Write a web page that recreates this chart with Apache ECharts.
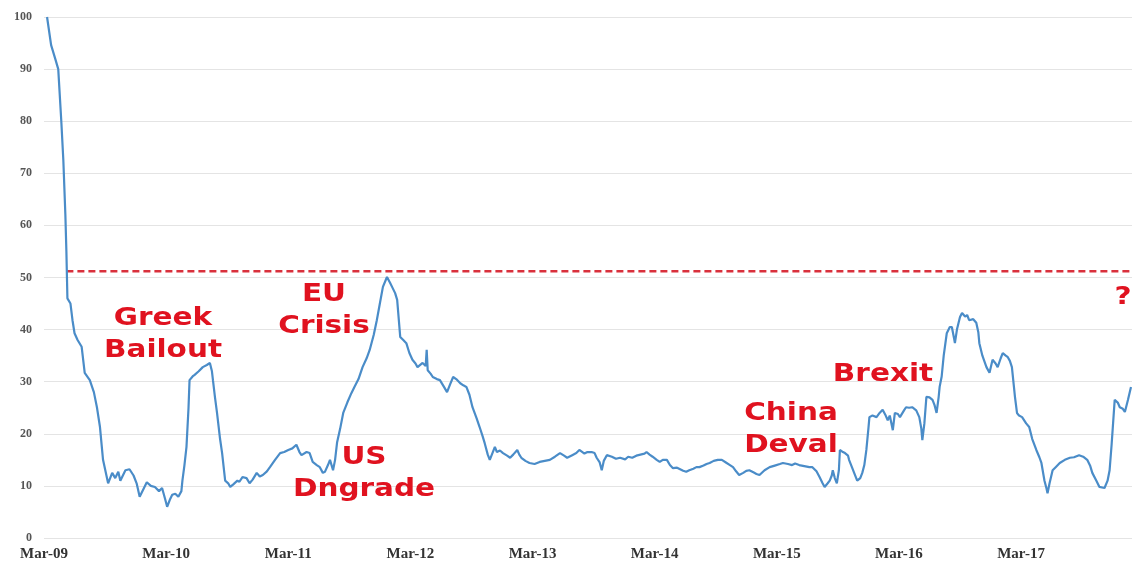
<!DOCTYPE html>
<html>
<head>
<meta charset="utf-8">
<script src="https://cdn.jsdelivr.net/npm/echarts@6/dist/echarts.min.js"></script>
<style>
  html, body { margin: 0; padding: 0; background: #fff; }
  #chart { width: 1132px; height: 565px; }
</style>
</head>
<body>
<div id="chart"></div>
<script>
// months since Mar-09
const months = [0.3,0.7,1.1,1.4,1.7,1.9,2.1,2.2,2.3,2.6,2.8,3.0,3.3,3.7,4.0,4.5,4.9,5.2,5.5,5.8,6.3,6.7,7.0,7.3,7.5,8.0,8.4,8.8,9.1,9.4,9.8,10.1,10.5,10.9,11.3,11.6,11.9,12.1,12.4,12.6,12.9,13.2,13.5,13.6,13.8,14.0,14.2,14.3,14.6,14.8,15.2,15.6,16.0,16.3,16.5,16.6,16.8,17.0,17.3,17.5,17.8,18.1,18.3,18.6,19.0,19.2,19.5,19.9,20.2,20.5,20.9,21.2,21.5,21.9,22.2,22.7,23.2,23.6,24.0,24.4,24.8,25.1,25.3,25.8,26.1,26.4,26.8,27.1,27.4,27.6,27.9,28.1,28.4,28.6,28.8,29.1,29.4,29.8,30.2,30.5,30.9,31.3,31.7,32.0,32.4,32.7,33.0,33.3,33.7,34.0,34.2,34.5,34.7,35.0,35.3,35.6,35.9,36.2,36.5,36.7,37.2,37.5,37.6,37.7,38.0,38.2,38.6,38.9,39.3,39.6,39.9,40.2,40.5,40.9,41.2,41.5,41.8,42.1,42.5,42.8,43.1,43.3,43.6,43.8,44.1,44.3,44.5,44.8,45.1,45.5,45.8,46.1,46.5,46.7,46.9,47.3,47.7,48.2,48.7,49.2,49.7,50.2,50.7,51.1,51.4,51.9,52.3,52.6,53.1,53.4,53.8,54.1,54.3,54.6,54.8,55.0,55.3,55.8,56.2,56.6,57.1,57.4,57.8,58.2,58.6,59.0,59.2,59.5,59.8,60.2,60.5,60.8,61.2,61.5,61.8,62.2,62.5,62.8,63.1,63.4,63.8,64.1,64.4,64.8,65.1,65.4,65.8,66.2,66.6,67.0,67.4,67.7,68.0,68.3,68.7,69.0,69.3,69.7,70.0,70.3,70.8,71.3,71.8,72.3,72.6,73.1,73.5,73.8,74.2,74.7,75.2,75.5,75.9,76.2,76.5,76.7,77.0,77.2,77.4,77.5,77.7,77.9,78.1,78.2,78.5,78.7,79.0,79.1,79.4,79.6,79.9,80.2,80.4,80.6,80.8,81.0,81.1,81.4,81.8,82.1,82.4,82.7,82.9,83.1,83.4,83.6,83.9,84.1,84.5,84.7,85.0,85.3,85.7,86.0,86.2,86.3,86.5,86.7,87.0,87.3,87.5,87.7,87.9,88.0,88.2,88.4,88.7,89.0,89.2,89.4,89.5,89.7,90.0,90.2,90.5,90.7,90.9,91.3,91.6,91.8,91.9,92.2,92.6,92.9,93.2,93.5,93.7,94.0,94.2,94.5,94.7,94.9,95.1,95.3,95.4,95.6,95.8,96.1,96.5,96.8,97.1,97.5,97.8,98.0,98.3,98.5,98.6,98.8,99.1,99.4,99.8,100.3,100.8,101.2,101.7,102.1,102.5,102.8,103.0,103.4,103.7,104.2,104.5,104.7,104.9,105.2,105.5,105.7,106.0,106.2,106.5,106.8]

const values = [100,94.6,92,90,80,72.5,62,55,46,45,41.8,39.3,38,36.7,31.7,30.3,28,25.1,21.3,15,10.5,12.5,11.5,12.7,11,13,13.2,12,10.5,7.9,9.5,10.7,10,9.8,9,9.6,7.5,6,7.5,8.3,8.5,7.9,9,11,14,17.5,25,30.3,31,31.3,32,32.8,33.2,33.6,32,30.3,27,24,19,16.3,11,10.5,9.8,10.3,11,10.8,11.7,11.5,10.5,11.2,12.5,11.8,12.1,12.8,13.6,15,16.3,16.5,16.9,17.2,17.9,16.5,15.9,16.5,16.3,14.6,14,13.6,12.5,12.7,14,15,13,15,18.4,21,24,26,27.8,29,30.5,32.8,34.5,36.1,39,41.8,45,48.2,50.1,49,48.2,47,45.7,38.6,38,37.4,35.5,34.2,33.5,32.8,33.6,33,36.1,32.2,31.5,30.9,30.5,30.3,29,28,29.5,30.9,30.5,29.7,29.3,29,27.5,25.1,23,21.3,19.5,18.2,16,15,16.5,17.5,16.5,16.8,16.3,15.8,15.4,16,16.9,16,15.4,14.8,14.4,14.2,14.6,14.8,15,15.6,16.3,15.8,15.4,15.9,16.3,16.9,16.2,16.5,16.5,16.3,15.4,14.5,13,14.8,15.9,15.6,15.2,15.4,15.1,15.6,15.4,15.8,16,16.2,16.5,16,15.6,15,14.6,15,15,14,13.4,13.5,13.2,12.9,12.7,13,13.3,13.6,13.6,13.9,14.2,14.4,14.8,15,15,14.5,14,13.6,12.8,12.1,12.5,12.9,13,12.6,12.3,12.1,13,13.6,13.9,14.2,14.4,14.2,14,14.3,14,13.8,13.6,13.6,12.8,11.7,10.5,9.8,10.5,11,12,13,11.5,10.5,13,16.9,16.5,16.3,15.8,15,13.5,12.5,11,11.5,12.5,14,16.9,21,23.2,23.5,23.2,24,24.6,23.5,22.6,23.5,20.7,24,23.8,23.2,24.5,25.1,25,25.1,24.5,23.2,21,18.8,22,27.1,27,26.5,25.5,24,27,29,31,35,39.3,40.5,40.5,38.5,37.4,40,42.4,43.2,42.5,42.8,41.8,42,41.3,39.5,37.4,35,32.8,31.7,34.2,33.5,32.8,34.5,35.5,35,34.7,34,32.8,29,27.1,24,23.5,23.2,22,21.3,19,16.9,15.5,14.4,11,9.5,8.6,10.5,13,13.6,14.4,15,15.4,15.5,15.9,15.6,15,13.8,12.5,11,9.8,9.6,11,13,18,26.5,26,25.1,24.8,24.2,26.5,29]

const tickLabels = ['Mar-09', 'Mar-10', 'Mar-11', 'Mar-12', 'Mar-13', 'Mar-14', 'Mar-15', 'Mar-16', 'Mar-17']
const thresholdMonths = [2.2, 106.9]
const thresholdValues = [51.2, 51.2]
const events = ['Greek\nBailout', 'EU\nCrisis', 'US\nDngrade', 'China\nDeval', 'Brexit', '?']

const chart = echarts.init(document.getElementById('chart'))

const annotationStyle = {
  fill: '#e0121f',
  font: 'bold 25px "DejaVu Sans", Verdana, sans-serif',
  textAlign: 'center',
  lineHeight: 32
}

const eventPos = [[163, 302], [324, 278], [364, 441], [791, 397], [883, 358], [1123, 281]]

const option = {
  backgroundColor: '#fff',
  animation: false,
  grid: { left: 44, right: 0, top: 17, bottom: 27 },
  xAxis: {
    type: 'value',
    min: 0,
    max: 106.9,
    interval: 12,
    axisLine: { show: false },
    axisTick: { show: false },
    splitLine: { show: false },
    axisLabel: {
      showMaxLabel: false,
      margin: 9,
      color: '#333',
      fontFamily: '"Liberation Serif", "DejaVu Serif", serif',
      fontWeight: 'bold',
      fontSize: 15,
      formatter: (v) => (v % 12 === 0 ? tickLabels[v / 12] || '' : '')
    }
  },
  yAxis: {
    type: 'value',
    min: 0,
    max: 100,
    interval: 10,
    axisLine: { show: false },
    axisTick: { show: false },
    splitLine: { lineStyle: { color: '#e4e4e4', width: 1 } },
    axisLabel: {
      margin: 12,
      color: '#555',
      fontFamily: '"Liberation Serif", "DejaVu Serif", serif',
      fontWeight: 'bold',
      fontSize: 12
    }
  },
  series: [
    {
      type: 'line',
      data: months.map((m, i) => [m, values[i]]),
      symbol: 'none',
      lineStyle: { color: '#4a8cc8', width: 2.2 },
      z: 3
    },
    {
      type: 'line',
      data: thresholdMonths.map((m, i) => [m, thresholdValues[i]]),
      symbol: 'none',
      lineStyle: { color: '#d9303c', width: 2.5, type: [7, 4] },
      z: 2
    }
  ],
  graphic: events.map((t, i) => ({
    type: 'text',
    x: eventPos[i][0],
    y: eventPos[i][1],
    scaleX: 1.18,
    z: 2.5,
    style: Object.assign({ text: t }, annotationStyle)
  }))
}

chart.setOption(option)
</script>
</body>
</html>
